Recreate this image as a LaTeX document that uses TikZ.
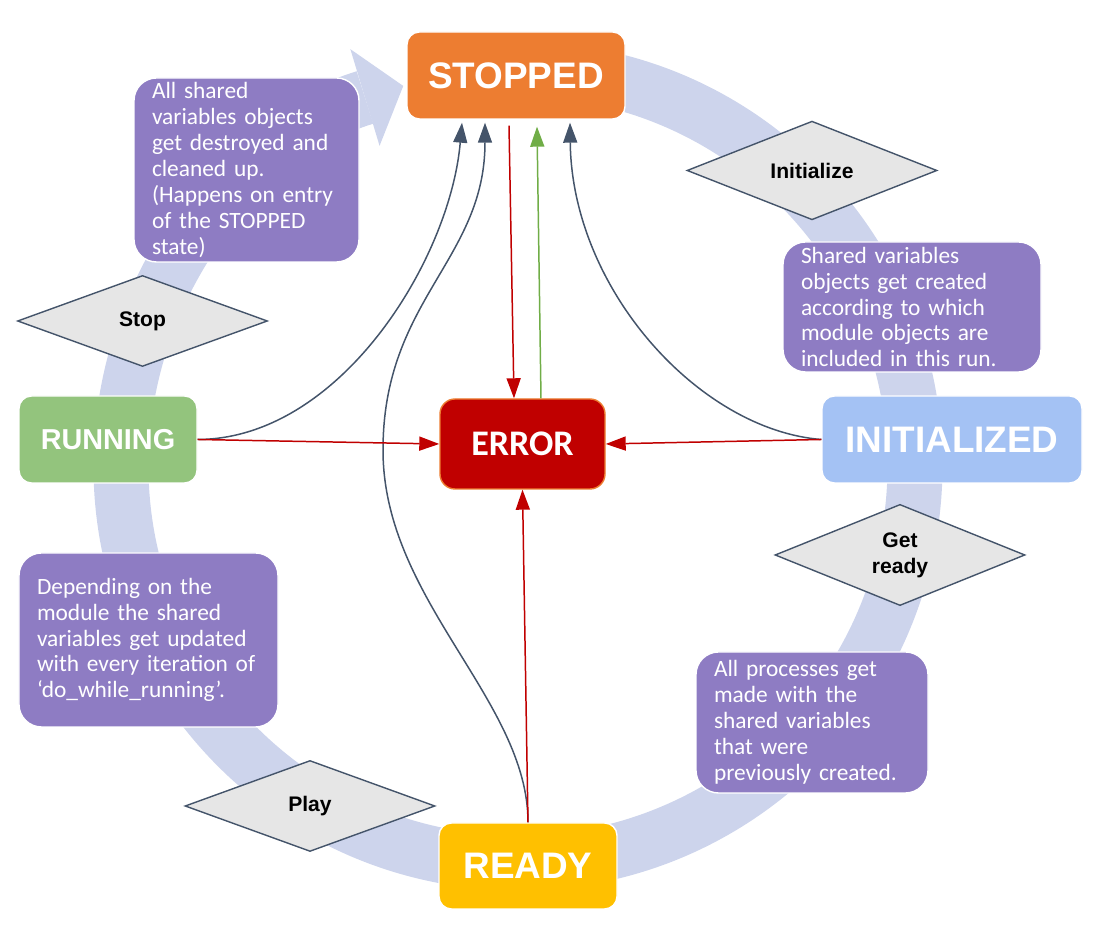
\documentclass[tikz,border=0pt]{standalone}
\usepackage{fontspec}
\setmainfont{Liberation Sans}
\newfontfamily\notefont{Carlito}
\usetikzlibrary{arrows.meta,positioning,shapes.geometric,calc}
\definecolor{stoporange}{RGB}{237,125,49}
\definecolor{rungreen}{RGB}{147,196,125}
\definecolor{errred}{RGB}{192,0,0}
\definecolor{initblue}{RGB}{164,194,244}
\definecolor{readygold}{RGB}{255,192,0}
\definecolor{notepurple}{RGB}{142,124,195}
\definecolor{ringblue}{RGB}{205,212,236}
\definecolor{slate}{RGB}{68,84,106}
\definecolor{diagray}{RGB}{230,230,230}
\definecolor{flowgreen}{RGB}{112,173,71}

\tikzset{
  state/.style={draw=white, line width=0.8pt, rounded corners=0.25cm, minimum height=1.74cm, text=white, font=\fontsize{21}{25}\selectfont\bfseries},
  event/.style={diamond, draw=slate, fill=diagray, line width=0.8pt, minimum width=5cm, minimum height=1.82cm, inner sep=0pt, align=center, font=\fontsize{12}{14.7}\selectfont\bfseries},
  note/.style={fill=notepurple, draw=white, line width=0.8pt, rounded corners=0.45cm, inner xsep=0.36cm, inner ysep=1pt, align=left, text=white, font=\notefont\fontsize{13.3}{14.74}\selectfont},
  trans/.style={slate, line width=0.85pt, -{Triangle[length=0.4cm,width=0.28cm]}},
  fail/.style={errred, line width=0.85pt, -{Triangle[length=0.4cm,width=0.28cm]}}
}

\begin{document}
\begin{tikzpicture}
  \useasboundingbox (0,0) rectangle (22.04,18.6);

  % Lifecycle ring
  \coordinate (hub) at (10.36,9.28);
  \draw[ringblue, line width=1.1cm, -{Triangle[width=2.02cm,length=0.8cm,line width=0pt]}] ([shift={(85:7.94)}]hub) arc[start angle=85, end angle=-253.2, radius=7.94];

  % Notes
  \node[note, text width=3.78cm, minimum height=3.68cm] (destroy) at (4.93,15.2) {All shared\\variables objects\\get destroyed and\\cleaned up.\\(Happens on entry\\of the STOPPED\\state)};
  \node[note, text width=4.44cm, minimum height=2.6cm] (create) at (18.24,12.46) {Shared variables\\objects get created\\according to which\\module objects are\\included in this run.};
  \node[note, text width=4.46cm, minimum height=3.48cm] (update) at (2.97,5.8) {Depending on the\\module the shared\\variables get updated\\with every iteration of\\‘do\_while\_running’.};
  \node[note, text width=3.92cm, minimum height=2.82cm] (spawn) at (16.24,4.15) {All processes get\\made with the\\shared variables\\that were\\previously created.};

  % Events
  \node[event] (init) at (16.24,15.19) {Initialize};
  \node[event] (stop) at (2.85,12.18) {Stop};
  \node[event] (getready) at (18.0,7.5) {Get\\ready};
  \node[event] (play) at (6.2,2.48) {Play};

  % States
  \node[state, fill=stoporange, minimum width=4.36cm] (stopped) at (10.32,17.09) {STOPPED};
  \node[state, fill=rungreen, minimum width=3.56cm, font=\fontsize{16.4}{20}\selectfont\bfseries] (running) at (2.16,9.81) {RUNNING};
  \node[state, fill=errred, draw=stoporange, rounded corners=0.3cm, minimum width=3.3cm, minimum height=1.8cm, font=\notefont\fontsize{20.5}{24}\selectfont\bfseries] (error) at (10.45,9.72) {ERROR};
  \node[state, fill=initblue, minimum width=5.2cm] (initialized) at (19.04,9.81) {INITIALIZED};
  \node[state, fill=readygold, minimum width=3.56cm, minimum height=1.72cm] (ready) at (10.56,1.28) {READY};

  % Transitions back to STOPPED
  \draw[trans] (running.east) .. controls (6.8,9.82) and (9.0,13.4) .. ($(stopped.south)+(-1.08,-0.06)$);
  \draw[trans] (ready.north) .. controls (10.56,4.6) and (7.66,6.6) .. (7.66,9.6) .. controls (7.66,12.6) and (9.7,13.4) .. ($(stopped.south)+(-0.62,-0.06)$);
  \draw[trans] (initialized.west) .. controls (14.0,10.0) and (11.44,12.8) .. ($(stopped.south)+(1.08,-0.06)$);

  % Error transitions
  \draw[fail] ($(stopped.south)+(-0.14,-0.12)$) -- ($(error.north)+(-0.17,0)$);
  \draw[flowgreen, line width=0.85pt, -{Triangle[length=0.4cm,width=0.28cm]}] ($(error.north)+(0.37,0)$) -- ($(stopped.south)+(0.42,-0.14)$);
  \draw[fail] (running.east) -- (error.west);
  \draw[fail] (initialized.west) -- (error.east);
  \draw[fail] (ready.north) -- (error.south);
\end{tikzpicture}
\end{document}
